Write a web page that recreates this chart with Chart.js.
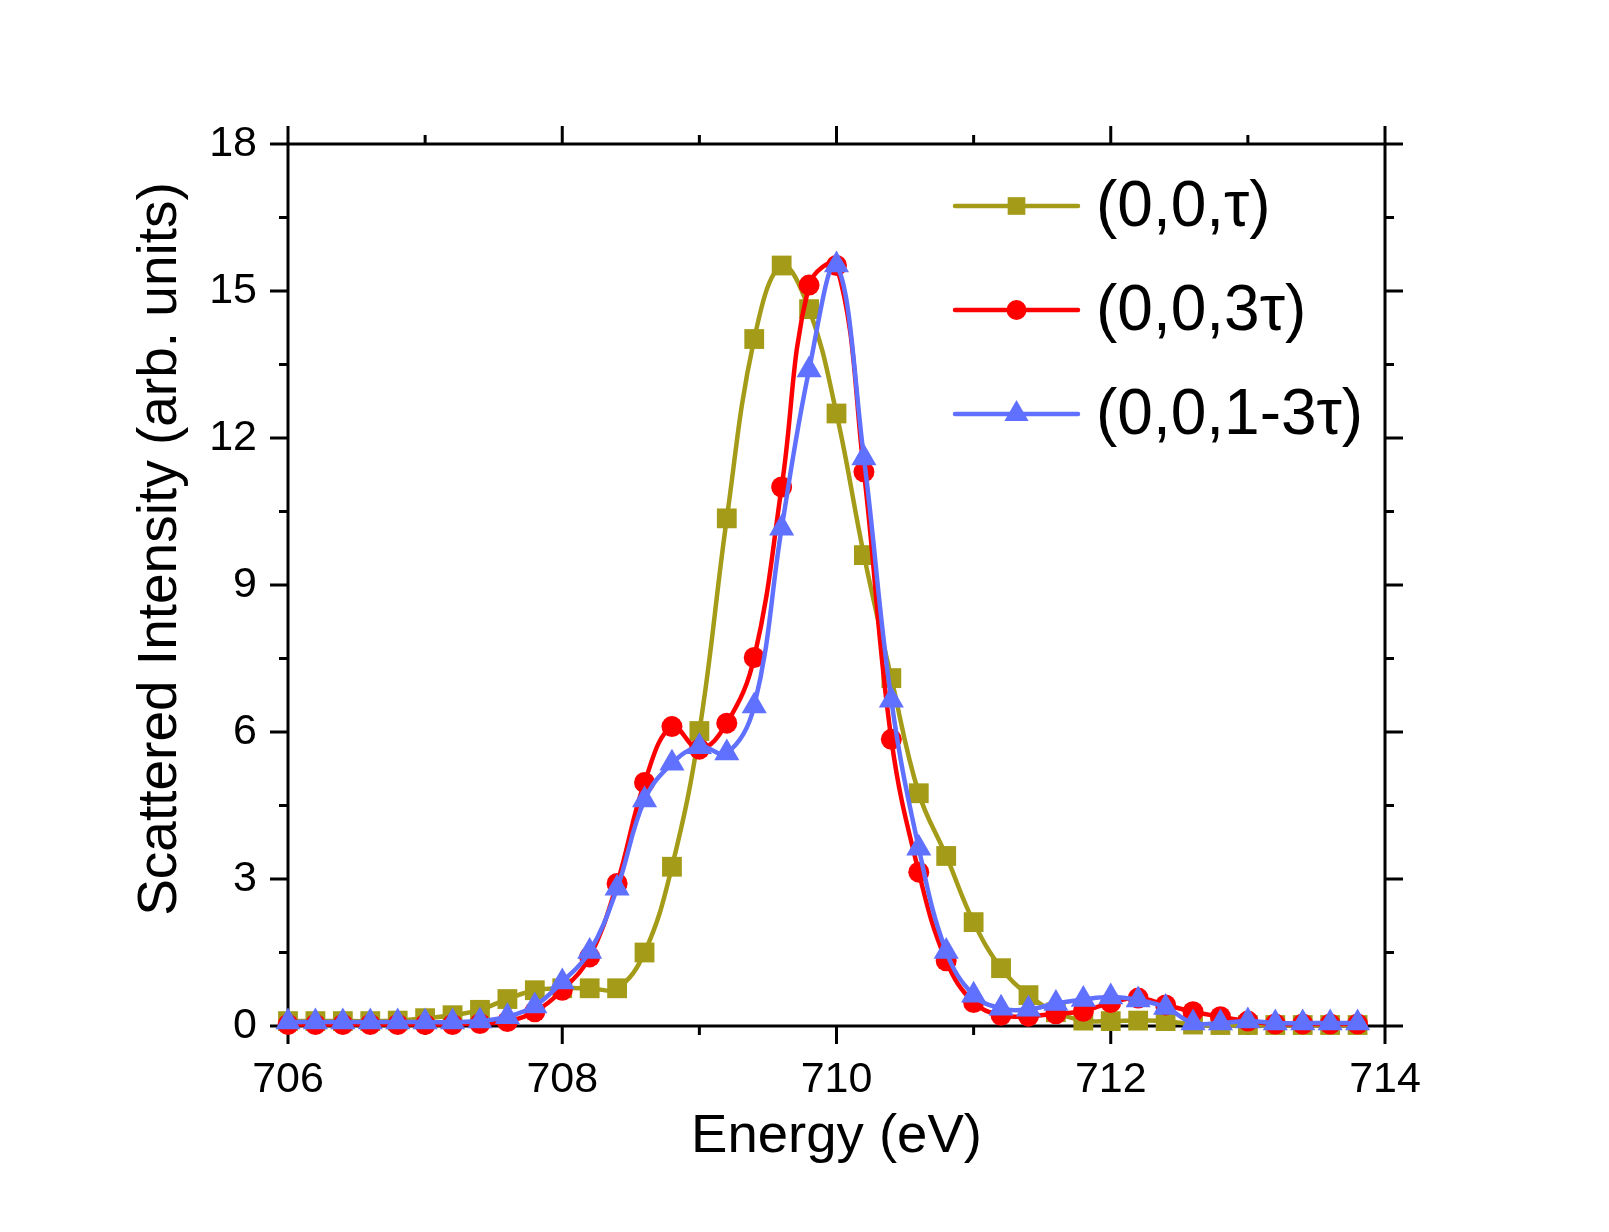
<!DOCTYPE html>
<html lang="en">
<head>
    <meta charset="UTF-8">
    <title>Scattered Intensity vs Energy</title>
    <style>
        body { margin: 0; background: #fff; }
        #wrap { width: 1609px; height: 1232px; }
    </style>
</head>
<body>
    <div id="wrap">
        <canvas id="spectrum" width="1609" height="1232"></canvas>
    </div>

    <script src="https://cdn.jsdelivr.net/npm/chart.js"></script>
    <script>
        // Energy grid (eV), one marker every 0.2 eV
        const energy = [
            706.0, 706.2, 706.4, 706.6, 706.8, 707.0, 707.2, 707.4, 707.6, 707.8,
            708.0, 708.2, 708.4, 708.6, 708.8, 709.0, 709.2, 709.4, 709.6, 709.8,
            710.0, 710.2, 710.4, 710.6, 710.8, 711.0, 711.2, 711.4, 711.6, 711.8,
            712.0, 712.2, 712.4, 712.6, 712.8, 713.0, 713.2, 713.4, 713.6, 713.8
        ];

        // (0,0,tau)
        const tau = [
            0.10, 0.10, 0.10, 0.10, 0.11, 0.16, 0.22, 0.33, 0.55, 0.73,
            0.77, 0.77, 0.77, 1.50, 3.25, 6.02, 10.36, 14.02, 15.52, 14.63,
            12.50, 9.61, 7.10, 4.75, 3.47, 2.12, 1.18, 0.63, 0.28, 0.11,
            0.10, 0.11, 0.10, 0.03, 0.02, 0.02, 0.02, 0.02, 0.02, 0.02
        ];

        // (0,0,3tau)
        const tau3 = [
            0.03, 0.03, 0.03, 0.03, 0.03, 0.03, 0.03, 0.05, 0.09, 0.29,
            0.73, 1.41, 2.91, 4.97, 6.11, 5.65, 6.18, 7.52, 11.00, 15.12,
            15.52, 11.31, 5.85, 3.14, 1.33, 0.48, 0.22, 0.20, 0.25, 0.30,
            0.48, 0.57, 0.43, 0.29, 0.19, 0.10, 0.04, 0.04, 0.04, 0.04
        ];

        // (0,0,1-3tau)
        const oneMinus3tau = [
            0.08, 0.08, 0.08, 0.08, 0.08, 0.08, 0.08, 0.10, 0.19, 0.41,
            0.90, 1.52, 2.81, 4.61, 5.36, 5.70, 5.57, 6.53, 10.16, 13.39,
            15.53, 11.59, 6.65, 3.63, 1.52, 0.63, 0.36, 0.34, 0.46, 0.54,
            0.59, 0.53, 0.38, 0.06, 0.06, 0.10, 0.06, 0.06, 0.06, 0.06
        ];

        const seriesLabels = ['(0,0,\u03C4)', '(0,0,3\u03C4)', '(0,0,1-3\u03C4)'];
        const yTitle = 'Scattered Intensity (arb. units)';

        // tick positions
        const xMajorTicks = [706, 708, 710, 712, 714];
        const xMinorTicks = [707, 709, 711, 713];
        const yMajorTicks = [0, 3, 6, 9, 12, 15, 18];
        const yMinorTicks = [1.5, 4.5, 7.5, 10.5, 13.5, 16.5];

        const FONT = "'Liberation Sans', Arial, sans-serif";

        function toPoints(values) {
            return energy.map((e, i) => ({ x: e, y: values[i] }));
        }

        // frame box + outward ticks on all four sides
        const frameTicks = {
            id: 'frameTicks',
            beforeDatasetsDraw(chart) {
                const { ctx, chartArea: a, scales: { x, y } } = chart;
                ctx.save();
                ctx.strokeStyle = '#000';
                ctx.lineWidth = 3;
                ctx.lineCap = 'butt';
                ctx.strokeRect(a.left, a.top, a.right - a.left, a.bottom - a.top);

                function xTick(v, len) {
                    const px = x.getPixelForValue(v);
                    ctx.beginPath();
                    ctx.moveTo(px, a.bottom); ctx.lineTo(px, a.bottom + len);
                    ctx.moveTo(px, a.top); ctx.lineTo(px, a.top - len);
                    ctx.stroke();
                }
                function yTick(v, len) {
                    const py = y.getPixelForValue(v);
                    ctx.beginPath();
                    ctx.moveTo(a.left, py); ctx.lineTo(a.left - len, py);
                    ctx.moveTo(a.right, py); ctx.lineTo(a.right + len, py);
                    ctx.stroke();
                }
                xMajorTicks.forEach(v => xTick(v, 18));
                xMinorTicks.forEach(v => xTick(v, 9));
                yMajorTicks.forEach(v => yTick(v, 18));
                yMinorTicks.forEach(v => yTick(v, 9));

                // y title, sits a bit above the axis centre like the original
                ctx.fillStyle = '#000';
                ctx.font = '55px ' + FONT;
                ctx.textAlign = 'center';
                ctx.textBaseline = 'middle';
                ctx.translate(161, 549);
                ctx.rotate(-Math.PI / 2);
                ctx.fillText(yTitle, 0, 0);
                ctx.restore();
            }
        };

        // legend drawn inside the plot, top right
        const insideLegend = {
            id: 'insideLegend',
            afterDraw(chart) {
                const { ctx } = chart;
                const rows = [206, 310, 414];
                const x0 = 955, x1 = 1078, tx = 1096;
                ctx.save();
                chart.data.datasets.forEach((ds, i) => {
                    const yy = rows[i];
                    ctx.strokeStyle = ds.borderColor;
                    ctx.lineWidth = 4.5;
                    ctx.lineCap = 'round';
                    ctx.beginPath();
                    ctx.moveTo(x0, yy);
                    ctx.lineTo(x1, yy);
                    ctx.stroke();
                    ctx.fillStyle = ds.backgroundColor;
                    Chart.helpers.drawPoint(ctx, {
                        pointStyle: ds.pointStyle,
                        radius: ds.legendRadius,
                        rotation: 0,
                        borderWidth: 0
                    }, (x0 + x1) / 2, yy);
                    ctx.fillStyle = '#000';
                    ctx.font = '64px ' + FONT;
                    ctx.textAlign = 'left';
                    ctx.textBaseline = 'middle';
                    ctx.fillText(ds.label, tx, yy + 2);
                });
                ctx.restore();
            }
        };

        const olive = '#a49c18';
        const red = '#ff0000';
        const blue = '#6070ff';

        const ctx = document.getElementById('spectrum').getContext('2d');
        new Chart(ctx, {
            type: 'line',
            data: {
                datasets: [
                    {
                        label: seriesLabels[0],
                        data: toPoints(tau),
                        borderColor: olive,
                        backgroundColor: olive,
                        pointStyle: 'rect',
                        pointRadius: 14,
                        legendRadius: 12.5,
                        order: 3
                    },
                    {
                        label: seriesLabels[1],
                        data: toPoints(tau3),
                        borderColor: red,
                        backgroundColor: red,
                        pointStyle: 'circle',
                        pointRadius: 10.5,
                        legendRadius: 10,
                        order: 2
                    },
                    {
                        label: seriesLabels[2],
                        data: toPoints(oneMinus3tau),
                        borderColor: blue,
                        backgroundColor: blue,
                        pointStyle: 'triangle',
                        pointRadius: 14.5,
                        legendRadius: 14,
                        order: 1
                    }
                ].map(d => Object.assign(d, {
                    borderWidth: 4.5,
                    pointBorderWidth: 0,
                    tension: 0.4,
                    fill: false,
                    clip: false
                }))
            },
            options: {
                responsive: false,
                animation: false,
                layout: { padding: { top: 144, right: 224, left: 0, bottom: 0 } },
                plugins: {
                    legend: { display: false },
                    tooltip: { enabled: false }
                },
                scales: {
                    x: {
                        type: 'linear',
                        position: 'bottom',
                        min: 706,
                        max: 714,
                        border: { display: false },
                        grid: { display: false, drawTicks: false },
                        ticks: {
                            stepSize: 2,
                            padding: 28,
                            color: '#000',
                            font: { family: FONT, size: 43 },
                            callback: v => String(v)
                        },
                        title: {
                            display: true,
                            text: 'Energy (eV)',
                            color: '#000',
                            font: { family: FONT, size: 54.5 },
                            padding: { top: 0, bottom: 62 }
                        },
                        afterFit(scale) {
                            scale.height = 206;
                            scale.paddingLeft = 0;
                            scale.paddingRight = 0;
                        }
                    },
                    y: {
                        type: 'linear',
                        position: 'left',
                        min: 0,
                        max: 18,
                        border: { display: false },
                        grid: { display: false, drawTicks: false },
                        ticks: {
                            stepSize: 3,
                            padding: 31,
                            color: '#000',
                            font: { family: FONT, size: 43 }
                        },
                        title: { display: false },
                        afterFit(scale) {
                            scale.width = 288;
                            scale.paddingTop = 0;
                            scale.paddingBottom = 0;
                        }
                    }
                }
            },
            plugins: [frameTicks, insideLegend]
        });
    </script>
</body>
</html>
